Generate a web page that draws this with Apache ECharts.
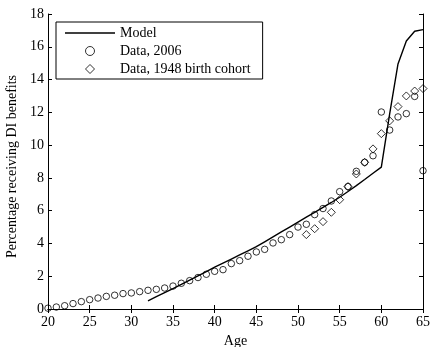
<!DOCTYPE html>
<html>
<head>
<meta charset="utf-8">
<script src="https://cdn.jsdelivr.net/npm/echarts@6/dist/echarts.min.js"></script>
<style>
  html, body { margin: 0; padding: 0; background: #fff; }
  #chart { width: 431px; height: 347px; }
</style>
</head>
<body>
<div id="chart"></div>
<script>
// Share of each age group receiving DI benefits
const ages2006 = [20,21,22,23,24,25,26,27,28,29,30,31,32,33,34,35,36,37,38,39,40,41,42,43,44,45,46,47,48,49,50,51,52,53,54,55,56,57,58,59,60,61,62,63,64,65];
const data2006 = [0.05,0.12,0.2,0.33,0.45,0.57,0.67,0.77,0.84,0.94,0.98,1.06,1.14,1.2,1.28,1.4,1.57,1.73,1.92,2.12,2.3,2.4,2.77,2.95,3.22,3.48,3.64,4.03,4.23,4.54,5.0,5.17,5.76,6.13,6.59,7.16,7.47,8.4,8.95,9.35,12.02,10.92,11.72,11.92,12.97,8.44];

const agesCohort = [51,52,53,54,55,56,57,58,59,60,61,62,63,64,65];
const dataCohort = [4.54,4.9,5.33,5.9,6.67,7.47,8.24,8.95,9.77,10.7,11.48,12.35,13.0,13.3,13.45];

const agesModel = [32,33,34,35,36,37,38,39,40,41,42,43,44,45,46,47,48,49,50,51,52,53,54,55,56,57,58,59,60,61,62,63,64,65];
const modelValues = [0.5,0.75,1.0,1.25,1.5,1.76,2.02,2.28,2.55,2.8,3.05,3.3,3.55,3.8,4.1,4.4,4.7,5.0,5.3,5.6,5.9,6.2,6.5,6.82,7.17,7.53,7.9,8.28,8.66,11.9,14.95,16.35,16.95,17.05];

const seriesNames = ['Model', 'Data, 2006', 'Data, 1948 birth cohort'];
const axisTitles = { x: 'Age', y: 'Percentage receiving DI benefits' };

const pair = (xs, ys) => xs.map((x, i) => [x, ys[i]]);

const FONT = '"Liberation Serif", "Times New Roman", serif';
const FONT_SIZE = 14;
const ink = '#000';

// Shared look for the four sides of the plot frame (ticks point inwards)
const frameAxis = (extra) => Object.assign({
  type: 'value',
  axisLine: { show: true, lineStyle: { color: ink, width: 1 } },
  axisTick: { show: true, inside: true, length: 4, lineStyle: { color: ink } },
  splitLine: { show: false },
  axisLabel: { show: false }
}, extra);

const labelStyle = { show: true, fontFamily: FONT, fontSize: FONT_SIZE, color: ink };

const chart = echarts.init(document.getElementById('chart'), null, { renderer: 'canvas' });
chart.setOption({
  backgroundColor: '#fff',
  animation: false,
  textStyle: { fontFamily: FONT, color: ink },
  grid: { left: 48, right: 8, top: 14, bottom: 38, containLabel: false, outerBoundsMode: 'none' },
  legend: {
    orient: 'vertical',
    left: 56,
    top: 22,
    padding: [4, 12, 3, 9],
    itemGap: 4,
    itemWidth: 50,
    itemHeight: 9,
    symbolKeepAspect: true,
    borderColor: ink,
    borderWidth: 1,
    backgroundColor: '#fff',
    itemStyle: { borderWidth: 1 },
    textStyle: { fontFamily: FONT, fontSize: FONT_SIZE, color: ink },
    data: [
      { name: seriesNames[0], icon: 'path://M0,0H50V1.5H0Z' },
      { name: seriesNames[1], icon: 'circle' },
      { name: seriesNames[2], icon: 'path://M4,0L8,4L4,8L0,4Z' }
    ]
  },
  xAxis: [
    frameAxis({
      position: 'bottom', min: 20, max: 65, interval: 5,
      name: axisTitles.x, nameLocation: 'middle', nameGap: 24,
      nameTextStyle: { fontFamily: FONT, fontSize: FONT_SIZE, color: ink },
      axisLabel: Object.assign({ margin: 6 }, labelStyle)
    }),
    frameAxis({ position: 'top', min: 20, max: 65, interval: 5 })
  ],
  yAxis: [
    frameAxis({
      position: 'left', min: 0, max: 18, interval: 2,
      name: axisTitles.y, nameLocation: 'middle', nameGap: 25,
      nameTextStyle: { fontFamily: FONT, fontSize: FONT_SIZE, color: ink, padding: [0, 10, 0, 0] },
      axisLabel: Object.assign({ margin: 4 }, labelStyle)
    }),
    frameAxis({ position: 'right', min: 0, max: 18, interval: 2 })
  ],
  series: [
    {
      name: seriesNames[0],
      type: 'line',
      data: pair(agesModel, modelValues),
      symbol: 'none',
      lineStyle: { color: ink, width: 1.4 },
      itemStyle: { color: ink },
      z: 3
    },
    {
      name: seriesNames[1],
      type: 'scatter',
      data: pair(ages2006, data2006),
      symbol: 'circle',
      symbolSize: 6.5,
      itemStyle: { color: 'rgba(255,255,255,0)', borderColor: ink, borderWidth: 1 },
      z: 2
    },
    {
      name: seriesNames[2],
      type: 'scatter',
      data: pair(agesCohort, dataCohort),
      symbol: 'diamond',
      symbolSize: 8,
      itemStyle: { color: 'rgba(255,255,255,0)', borderColor: ink, borderWidth: 1 },
      z: 2
    }
  ]
});
</script>
</body>
</html>
